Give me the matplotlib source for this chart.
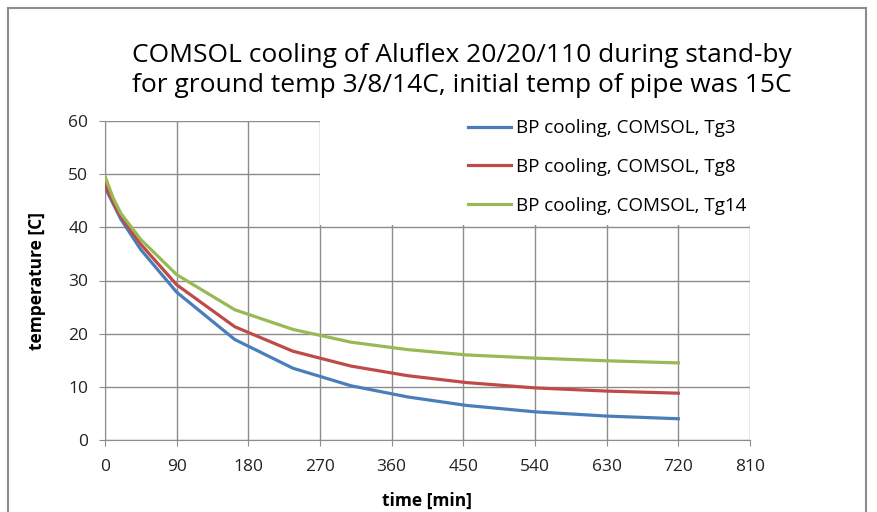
import matplotlib
matplotlib.use('Agg')
import matplotlib.pyplot as plt
import matplotlib.patches as mpatches
import numpy as np

matplotlib.rc('font', family=['Open Sans', 'DejaVu Sans'])

# time [min] and temperatures
time_min = [0, 10, 20, 45, 90, 163, 236, 309, 380, 454, 540, 630, 720]
tg3 = [47.5, 44.5, 41.5, 35.8, 27.8, 18.9, 13.5, 10.2, 8.1, 6.5, 5.3, 4.5, 4.0]
tg8 = [48.0, 44.8, 42.0, 36.8, 29.2, 21.3, 16.7, 13.9, 12.1, 10.8, 9.8, 9.2, 8.8]
tg14 = [49.6, 45.6, 42.6, 37.7, 31.1, 24.5, 20.8, 18.4, 17.0, 16.0, 15.4, 14.9, 14.5]

labels = ['BP cooling, COMSOL, Tg3', 'BP cooling, COMSOL, Tg8', 'BP cooling, COMSOL, Tg14']
colors = ['#4A7EBB', '#BE4B48', '#98B954']
xticks = np.arange(0, 811, 90)
yticks = np.arange(0, 61, 10)

fig = plt.figure(figsize=(8.77, 5.12), dpi=100)
ax = fig.add_axes([105 / 877, 72 / 512, 645 / 877, 319 / 512])

for series, lab, col in zip([tg3, tg8, tg14], labels, colors):
    ax.plot(time_min, series, color=col, lw=2.3, label=lab, zorder=3)

ax.set_xlim(0, 810)
ax.set_ylim(0, 60)
ax.set_xticks(xticks)
ax.set_yticks(yticks)
ax.grid(True, color='#8c8c8c', lw=1.0)
for side in ['top', 'right']:
    ax.spines[side].set_visible(False)
for side in ['left', 'bottom']:
    ax.spines[side].set_color('#8c8c8c')
ax.tick_params(axis='both', colors='#8c8c8c', labelcolor='#222222', labelsize=12.5, length=4)
ax.tick_params(axis='x', pad=10)
ax.tick_params(axis='y', pad=8)

ax.set_xlabel('time [min]', fontsize=12.5, fontweight='bold', labelpad=12)
ax.set_ylabel('temperature [C]', fontsize=12.5, fontweight='bold', labelpad=16)

# white legend area hides the grid behind it, like in the original
ax.add_patch(mpatches.Rectangle((0.333, 0.674), 0.69, 0.36, transform=ax.transAxes,
                                facecolor='white', edgecolor='none', clip_on=False, zorder=1.8))
leg = ax.legend(loc='upper left', bbox_to_anchor=(0.537, 1.058), frameon=False,
                fontsize=13.5, handlelength=2.3, handletextpad=0.27, labelspacing=1.1)

fig.text(462 / 877, 1 - 56 / 512, 'COMSOL cooling of Aluflex 20/20/110 during stand-by',
         ha='center', va='center', fontsize=19)
fig.text(462 / 877, 1 - 85 / 512, 'for ground temp 3/8/14C, initial temp of pipe was 15C',
         ha='center', va='center', fontsize=19)

# outer chart border
fig.patches.append(mpatches.Rectangle((8 / 877, -0.1), 858 / 877, 1.1 - 8 / 512,
                                      transform=fig.transFigure, fill=False,
                                      edgecolor='#8c8c8c', lw=1.5))

plt.savefig('out.png', dpi=100)
